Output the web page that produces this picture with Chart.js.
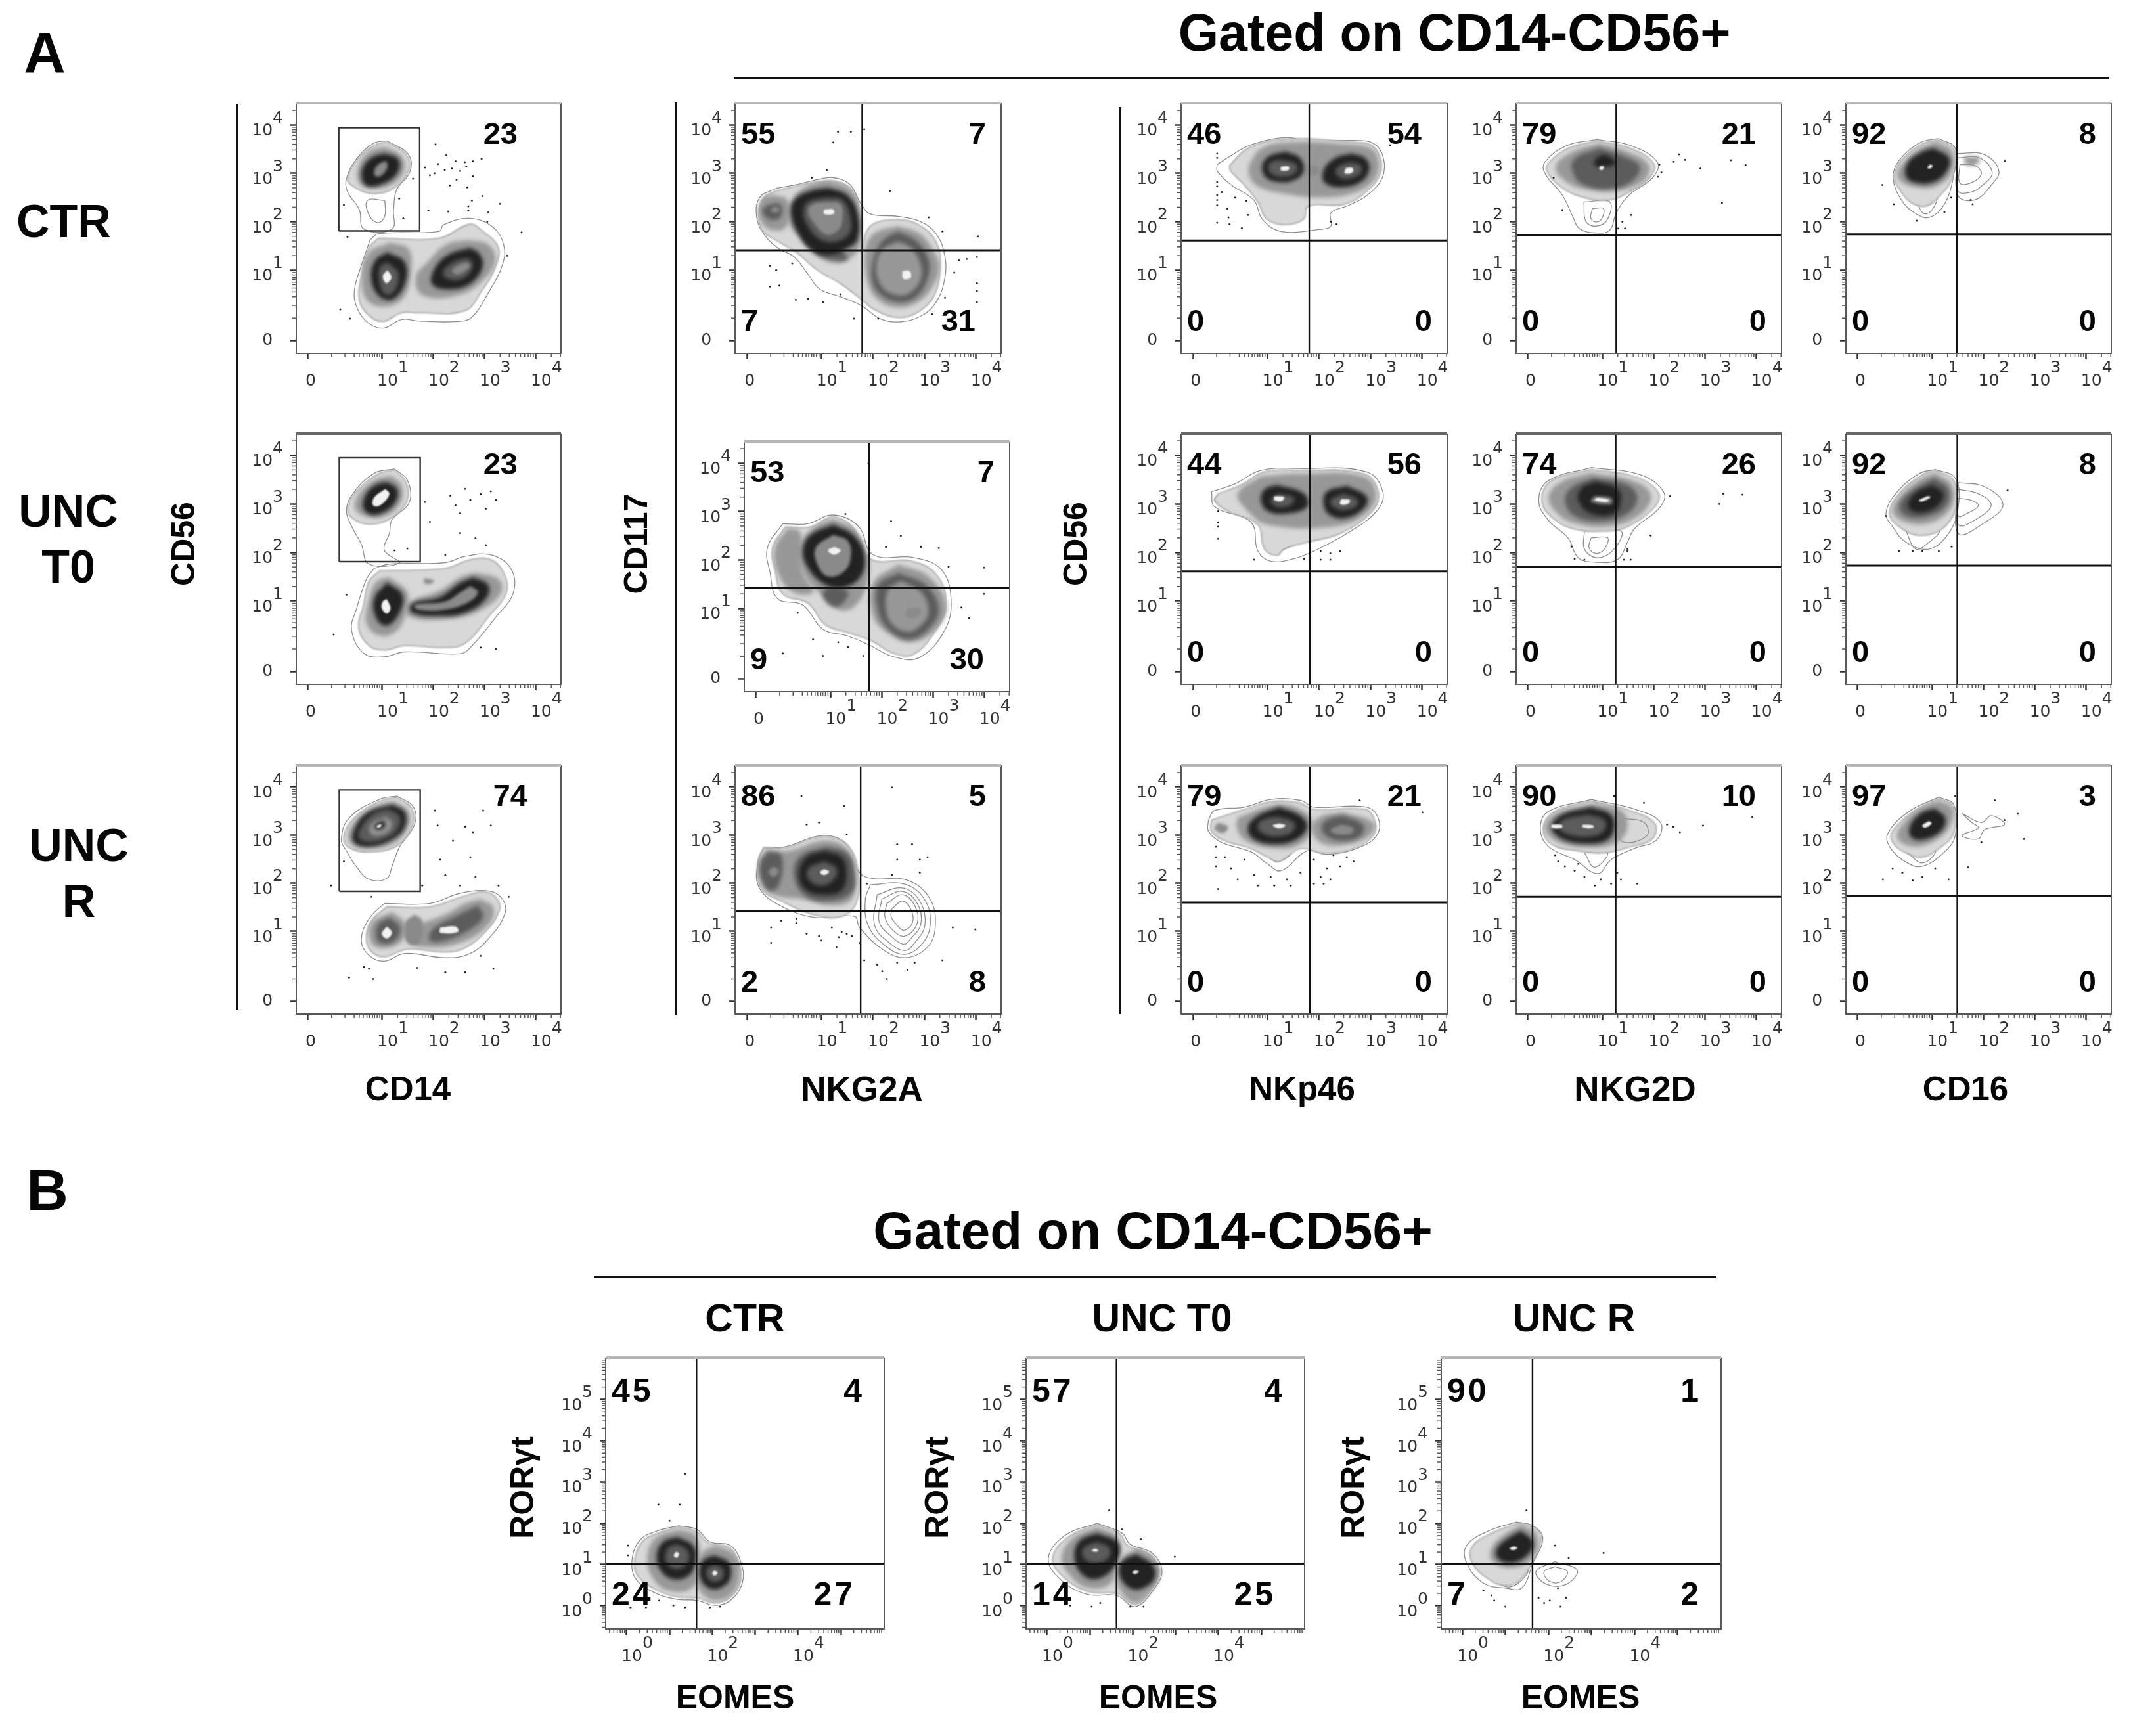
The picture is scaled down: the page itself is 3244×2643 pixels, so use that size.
<!DOCTYPE html>
<html>
<head>
<meta charset="utf-8">
<title>Flow cytometry panels</title>
<script src="https://cdn.jsdelivr.net/npm/chart.js@4/dist/chart.umd.js"></script>
<style>
  html, body { margin: 0; background: #fff; }
  #figure { position: relative; width: 3244px; height: 2643px; overflow: hidden; filter: blur(0.6px); }
  canvas { position: absolute; }
  .txt { position: absolute; font-family: "Liberation Sans", Arial, sans-serif; font-weight: bold; color: #050505; white-space: nowrap; transform: translate(-50%, -50%); }
  .rule { position: absolute; background: #111; }
</style>
</head>
<body>
<div id="figure"></div>
<script>
// ticks. the A panels are biexponential, so the position of 0, 10^1.. is in axis units
var biexMajor = [0, 1.45, 2.45, 3.45, 4.45]
var biexExponents = [null, 1, 2, 3, 4]
var biexMinorLow = [0.46, 0.72, 0.9, 1.0, 1.08, 1.15, 1.2, 1.26, 1.3, 1.35, 1.4, 4.75, 4.93]
var logMajor = [0, 1, 2, 3, 4, 5]
var logXExponents = [0, null, 2, null, 4, null]
var logYExponents = [0, 1, 2, 3, 4, 5]
var decadeMinor = [0.3, 0.48, 0.6, 0.7, 0.78, 0.85, 0.9, 0.95]

// each ring: density level, then x,y,x,y.. in axis units, outermost first
var ctrCd14Rings = [
  [1, 1.55,4.12, 1.96,3.84, 1.99,3.48, 1.73,3.11, 1.67,2.7, 1.64,2.3, 1.09,2.3, 1.0,2.7, .77,3.07, .75,3.34, .95,3.75, 1.28,4.07],
  [1, 1.5,2.89, 1.5,2.57, 1.37,2.43, 1.2,2.57, 1.16,2.89],
  [2, 1.55,4.1, 1.92,3.84, 1.97,3.52, 1.7,3.16, 1.28,3.03, .91,3.16, .77,3.34, .98,3.75, 1.28,4.02],
  [3, 1.5,4.0, 1.83,3.8, 1.87,3.48, 1.6,3.2, 1.23,3.14, 1.0,3.25, .98,3.57, 1.18,3.89],
  [5, 1.5,3.86, 1.76,3.75, 1.76,3.48, 1.5,3.25, 1.18,3.18, 1.05,3.34, 1.09,3.61, 1.28,3.8],
  [6, 1.53,3.7, 1.55,3.57, 1.41,3.39, 1.3,3.41, 1.32,3.57, 1.44,3.68],
  [1, 1.21,2.07, 1.37,2.2, 2.56,2.25, 2.65,2.39, 3.16,2.52, 3.61,2.34, 3.82,1.98, 3.8,1.57, 3.52,.98, 3.2,.48, 2.93,.39, 2.15,.4, 1.83,.43, 1.46,.25, 1.14,.39, .93,.75, .91,1.07, 1.05,1.57],
  [2, 1.37,2.11, 2.56,2.11, 3.16,2.4, 3.39,2.27, 3.71,1.93, 3.66,1.52, 3.39,1.02, 3.06,.61, 2.15,.57, 1.83,.57, 1.46,.39, 1.18,.52, 1.0,.84, 1.05,1.34, 1.18,1.89],
  [3, 1.6,2.02, 1.96,1.89, 2.01,1.39, 1.87,.89, 1.55,.7, 1.18,.8, 1.05,1.2, 1.18,1.8],
  [5, 1.55,1.82, 1.89,1.61, 1.89,1.16, 1.64,.84, 1.37,.93, 1.23,1.3, 1.32,1.66],
  [4, 1.55,1.61, 1.76,1.39, 1.69,1.02, 1.5,.95, 1.39,1.25, 1.41,1.52],
  [7, 1.55,1.45, 1.63,1.3, 1.53,1.18, 1.46,1.32],
  [3, 3.11,2.07, 3.52,1.98, 3.66,1.66, 3.43,1.25, 2.93,.93, 2.24,.93, 2.1,1.3, 2.33,1.61, 2.7,1.98],
  [5, 3.16,1.91, 3.34,1.8, 3.41,1.52, 3.16,1.16, 2.74,1.05, 2.42,1.16, 2.47,1.48, 2.74,1.77],
  [4, 3.11,1.7, 3.22,1.57, 3.06,1.3, 2.79,1.25, 2.63,1.39, 2.83,1.61],
  [6, 3.11,1.61, 3.16,1.52, 2.93,1.36, 2.81,1.43, 2.93,1.55]
]
var ctrCd14Dots = [2.49,4.05, 2.7,3.82, 2.88,3.7, 3.06,3.68, 3.22,3.7, 3.39,3.75, 2.28,3.57, 2.38,3.41, 2.47,3.45, 2.54,3.64, 2.67,3.52, 2.81,3.55, 2.97,3.5, 3.09,3.59, 3.22,3.39, 2.9,3.32, 3.11,3.16, 2.77,3.2, 3.2,2.89, 3.41,2.98, 3.75,2.82, 3.13,2.77, 3.13,2.68, 2.35,2.68, 2.74,2.66, 3.52,2.64, 3.5,2.45, 4.17,2.23, 3.89,1.75, .77,2.14, .63,.64, .82,.45, 1.78,2.93, 2.05,3.34, .7,2.8, 1.86,2.52]
var ctrCd14Pct = [null, 23, null, null]
var ctrCd14Box = [.6, 2.18, 2.26, 4.39]

var unc0Cd14Rings = [
  [1, 1.69,4.17, 1.94,3.94, 1.98,3.49, 1.64,3.12, 1.59,2.85, 1.49,2.49, 1.79,2.24, 1.19,2.21, 1.04,2.62, .85,2.99, .75,3.3, .85,3.62, 1.29,4.08],
  [2, 1.69,4.15, 1.91,3.9, 1.94,3.53, 1.64,3.17, 1.19,3.03, .85,3.17, .78,3.4, 1.0,3.76, 1.39,4.08],
  [3, 1.64,4.03, 1.84,3.8, 1.79,3.44, 1.49,3.19, 1.14,3.19, .92,3.35, 1.0,3.67, 1.34,3.96],
  [5, 1.54,3.9, 1.74,3.76, 1.71,3.49, 1.44,3.26, 1.19,3.24, 1.07,3.4, 1.14,3.67, 1.34,3.85],
  [7, 1.51,3.76, 1.59,3.65, 1.41,3.42, 1.27,3.42, 1.29,3.58],
  [1, 1.29,2.12, 1.59,2.21, 2.68,2.24, 3.07,2.37, 3.57,2.4, 3.96,2.12, 4.01,1.62, 3.67,1.12, 3.17,.49, 2.97,.36, 1.89,.4, 1.49,.3, 1.09,.37, .85,.85, .95,1.3, 1.14,1.9],
  [2, 1.39,2.07, 2.68,2.12, 3.17,2.3, 3.57,2.3, 3.82,2.03, 3.87,1.62, 3.52,1.12, 3.07,.58, 2.68,.49, 1.89,.53, 1.49,.44, 1.19,.53, .99,.89, 1.09,1.39, 1.19,1.85],
  [3, 1.59,1.94, 1.94,1.62, 1.89,1.12, 1.69,.8, 1.39,.74, 1.14,.99, 1.19,1.49, 1.34,1.85],
  [5, 1.54,1.83, 1.84,1.58, 1.79,1.21, 1.54,.94, 1.34,1.08, 1.29,1.49],
  [7, 1.54,1.49, 1.61,1.3, 1.54,1.19, 1.44,1.3, 1.46,1.44],
  [3, 3.27,2.03, 3.72,1.9, 3.77,1.62, 3.37,1.26, 2.78,1.08, 1.98,1.12, 1.94,1.39, 2.58,1.67, 2.97,1.94],
  [5, 3.22,1.94, 3.52,1.78, 3.47,1.49, 3.07,1.21, 2.58,1.14, 2.03,1.21, 2.03,1.39, 2.58,1.53, 2.93,1.8],
  [6, 3.17,1.76, 3.32,1.62, 3.07,1.39, 2.58,1.26, 2.13,1.28, 2.08,1.37, 2.68,1.44, 2.97,1.62],
  [6, 2.28,1.92, 2.46,1.87, 2.38,1.8, 2.26,1.83]
]
var unc0Cd14Dots = [2.78,3.62, 3.07,3.76, 3.37,3.65, 3.67,3.53, 2.88,3.42, 3.17,3.53, 3.47,3.35, 2.97,3.26, 3.57,3.71, 2.28,3.49, 2.38,3.08, 2.97,2.85, 3.47,2.6, 2.68,2.4, 3.27,2.74, 1.69,2.49, 1.94,2.53, 3.67,.46, 3.37,.49, .75,1.58, .5,.76]
var unc0Cd14Pct = [null, 23, null, null]
var unc0Cd14Box = [.61, 2.19, 2.26, 4.4]

var uncRCd14Rings = [
  [1, 1.74,4.26, 2.06,4.03, 2.08,3.67, 1.79,3.21, 1.64,2.8, 1.54,2.55, 1.19,2.53, .94,2.8, .75,3.12, .65,3.35, .8,3.8, 1.39,4.19],
  [2, 1.74,4.24, 2.03,3.99, 2.03,3.62, 1.74,3.23, 1.24,3.1, .8,3.19, .7,3.44, .95,3.85, 1.44,4.17],
  [3, 1.69,4.15, 1.96,3.94, 1.94,3.58, 1.64,3.26, 1.19,3.17, .85,3.26, .8,3.53, 1.09,3.9, 1.44,4.1],
  [5, 1.64,4.08, 1.89,3.92, 1.87,3.58, 1.59,3.33, 1.19,3.21, .9,3.3, .9,3.55, 1.14,3.9],
  [4, 1.57,3.99, 1.79,3.83, 1.74,3.55, 1.49,3.37, 1.19,3.3, .99,3.39, 1.04,3.62, 1.29,3.9],
  [3, 1.51,3.83, 1.64,3.71, 1.57,3.53, 1.34,3.44, 1.21,3.51, 1.24,3.69],
  [5, 1.47,3.76, 1.51,3.65, 1.37,3.56, 1.29,3.63],
  [7, 1.41,3.68, 1.44,3.65, 1.37,3.6, 1.34,3.63],
  [1, 1.49,2.03, 2.38,2.03, 2.97,2.24, 3.57,2.28, 3.82,2.08, 3.84,1.8, 3.57,1.35, 3.17,.99, 2.68,.9, 1.89,.99, 1.49,.83, 1.19,.95, 1.04,1.26, 1.19,1.71],
  [2, 1.54,1.96, 2.38,1.96, 3.02,2.17, 3.47,2.27, 3.72,2.08, 3.72,1.84, 3.47,1.45, 3.07,1.11, 2.68,1.02, 1.94,1.08, 1.49,.92, 1.24,1.03, 1.14,1.3, 1.24,1.67],
  [3, 1.64,1.85, 1.89,1.62, 1.84,1.26, 1.49,1.1, 1.24,1.21, 1.24,1.62],
  [4, 1.59,1.74, 1.79,1.55, 1.74,1.3, 1.49,1.19, 1.34,1.3, 1.37,1.6],
  [7, 1.54,1.55, 1.64,1.42, 1.54,1.3, 1.44,1.4],
  [3, 3.37,2.12, 3.62,1.94, 3.52,1.58, 2.97,1.21, 2.28,1.12, 1.98,1.26, 2.08,1.53, 2.68,1.8, 3.07,2.03],
  [4, 3.32,1.99, 3.42,1.76, 3.17,1.49, 2.68,1.26, 2.38,1.26, 2.43,1.49, 2.88,1.76],
  [6, 2.08,1.8, 2.23,1.67, 2.18,1.21, 1.94,1.21, 1.89,1.62],
  [7, 2.58,1.53, 2.88,1.55, 2.93,1.44, 2.58,1.42]
]
var uncRCd14Dots = [2.48,3.96, 3.42,3.96, 2.53,3.65, 3.07,3.62, 3.57,3.65, 3.22,3.51, 2.83,3.33, 2.58,2.94, 3.17,2.99, 2.68,2.62, 3.27,2.58, 2.97,2.4, 3.72,2.4, 2.23,2.4, 3.92,2.17, 1.24,2.17, .45,2.4, .8,.49, 1.27,.46, 1.19,.67, 2.13,.69, 2.68,.6, 3.07,.6, 3.62,.67, 3.37,.94, 1.09,.71, .7,2.9]
var uncRCd14Pct = [null, 74, null, null]
var uncRCd14Box = [.61, 2.19, 2.28, 4.39]

var ctrNkg2aRings = [
  [1, .57,3.14, .97,3.22, 1.37,3.32, 1.68,3.36, 2.0,3.22, 2.22,2.81, 2.4,2.61, 2.93,2.56, 3.38,2.45, 3.69,2.18, 3.85,1.72, 3.85,1.31, 3.69,.81, 3.38,.5, 2.93,.38, 2.58,.45, 2.22,.72, 1.82,.9, 1.41,1.06, 1.19,1.36, .92,1.72, .61,1.9, .34,2.18, .19,2.54, .25,2.95],
  [2, .57,3.09, 1.37,3.27, 1.9,3.22, 2.17,2.81, 2.22,1.9, 2.4,2.36, 2.93,2.49, 3.38,2.36, 3.69,2.0, 3.75,1.54, 3.65,.95, 3.33,.59, 2.93,.47, 2.49,.63, 2.22,.85, 1.82,1.17, 1.37,1.45, .97,1.81, .61,2.04, .3,2.27, .23,2.63, .34,2.95],
  [3, .52,3.0, .79,2.9, .81,2.45, .65,2.27, .34,2.36, .23,2.68, .32,2.95],
  [4, .43,2.81, .65,2.81, .65,2.54, .43,2.5, .3,2.68],
  [6, .48,2.75, .61,2.75, .61,2.65, .48,2.65],
  [3, 1.59,3.31, 2.0,3.13, 2.17,2.77, 2.2,2.0, 2.04,1.72, 1.77,1.59, 1.41,1.72, 1.1,2.04, .83,2.4, .83,2.81, 1.15,3.18],
  [4, 1.24,1.93, 1.77,1.9, 1.95,1.68, 1.68,1.66, 1.37,1.77],
  [5, 1.59,3.15, 1.95,3.0, 2.15,2.63, 2.15,2.09, 1.95,1.9, 1.59,1.77, 1.24,1.88, 1.01,2.18, .86,2.59, .92,2.9, 1.24,3.09],
  [4, 1.55,2.95, 1.86,2.9, 2.0,2.59, 2.0,2.22, 1.73,2.04, 1.41,2.09, 1.19,2.36, 1.1,2.63, 1.19,2.86],
  [6, 1.55,2.86, 1.82,2.81, 1.86,2.5, 1.77,2.27, 1.55,2.18, 1.28,2.45, 1.19,2.68, 1.28,2.81],
  [7, 1.5,2.7, 1.68,2.7, 1.68,2.61, 1.5,2.61],
  [3, 2.93,2.36, 3.33,2.22, 3.6,1.9, 3.74,1.5, 3.6,1.09, 3.29,.77, 2.93,.68, 2.58,.81, 2.35,1.18, 2.31,1.9, 2.49,2.22],
  [4, 2.93,2.25, 3.31,2.04, 3.54,1.63, 3.51,1.27, 3.29,.9, 2.98,.79, 2.62,.93, 2.44,1.22, 2.46,1.67, 2.62,2.04],
  [3, 2.93,2.04, 3.2,1.9, 3.38,1.54, 3.36,1.22, 3.11,.95, 2.8,.97, 2.58,1.18, 2.51,1.54, 2.62,1.86],
  [7, 3.02,1.43, 3.16,1.43, 3.18,1.29, 3.04,1.27]
]
var ctrNkg2aDots = [1.77,4.31, 2.02,4.31, 1.68,4.09, 2.28,4.36, 1.55,3.52, 1.26,3.36, 2.78,3.09, 3.53,2.54, 3.8,2.25, 4.49,2.15, 4.12,1.65, 4.27,1.68, 4.47,1.72, 4.03,1.4, 4.47,1.18, 4.47,1.02, 4.47,.79, 3.85,.88, .45,1.54, .57,1.45, .45,1.11, .63,1.13, .88,1.59, 1.19,.86, .95,.84, 1.48,.79, 1.82,.95, 2.08,.45, 2.55,.45, 3.6,.54]
var ctrNkg2aPct = [55, 7, 7, 31]
var ctrNkg2aCut = [2.24, 1.86]

var unc0Nkg2aRings = [
  [1, .52,3.2, 1.01,3.2, 1.5,3.38, 1.99,3.15, 2.28,2.56, 3.07,2.5, 3.61,2.25, 3.8,1.61, 3.66,.97, 3.17,.43, 2.68,.45, 2.19,.7, 1.79,.88, 1.3,1.02, .91,1.52, .42,1.65, .27,2.2, .22,2.7],
  [2, .57,3.13, 1.06,3.13, 1.5,3.34, 1.89,3.11, 2.23,2.47, 3.02,2.43, 3.51,2.15, 3.7,1.56, 3.51,1.02, 3.07,.5, 2.68,.52, 2.23,.79, 1.79,.95, 1.35,1.11, 1.01,1.56, .52,1.75, .37,2.25, .32,2.7],
  [3, .62,3.11, .86,3.02, .91,2.2, 1.11,1.79, .71,1.79, .42,2.2, .37,2.7],
  [3, 1.5,3.31, 1.94,3.06, 2.19,2.47, 2.14,1.88, 1.89,1.47, 1.6,1.43, 1.25,1.75, .91,2.2, .86,2.75, 1.11,3.11],
  [4, 1.4,1.88, 1.79,1.79, 1.65,1.52, 1.45,1.52, 1.3,1.75],
  [5, 1.5,3.18, 1.89,2.97, 2.11,2.56, 2.04,2.11, 1.7,1.88, 1.3,1.97, 1.01,2.29, .91,2.65, 1.06,2.97],
  [6, 1.5,2.97, 1.79,2.84, 1.84,2.47, 1.7,2.2, 1.4,2.11, 1.2,2.34, 1.16,2.7],
  [7, 1.52,2.72, 1.65,2.65, 1.52,2.56, 1.4,2.65],
  [3, 2.77,2.36, 3.36,2.11, 3.7,1.52, 3.51,1.02, 3.02,.75, 2.58,.93, 2.28,1.29, 2.28,1.97],
  [4, 2.77,2.18, 3.31,1.93, 3.56,1.43, 3.36,1.02, 2.97,.81, 2.58,1.02, 2.38,1.38, 2.38,1.93],
  [3, 2.82,2.02, 3.21,1.79, 3.36,1.38, 3.17,1.06, 2.92,.97, 2.63,1.15, 2.53,1.47, 2.58,1.84],
  [6, 2.97,1.47, 3.21,1.43, 3.12,1.25, 2.92,1.29]
]
var unc0Nkg2aDots = [2.19,4.45, 1.74,3.4, 2.63,3.25, 2.82,2.95, 2.53,2.72, 3.21,2.72, 3.56,2.7, 4.44,2.29, 4.44,1.75, 3.75,2.31, 4.0,1.47, 4.15,1.25, 1.11,.81, 1.6,.75, 1.79,.65, 1.3,.47, 2.09,.47, .52,.52, .81,1.36]
var unc0Nkg2aPct = [53, 7, 9, 30]
var unc0Nkg2aCut = [2.2, 1.88]

var uncRNkg2aRings = [
  [1, .32,3.17, .76,3.21, 1.45,3.44, 1.89,3.3, 2.19,2.67, 2.43,2.55, 3.12,2.51, 3.56,2.12, 3.66,1.53, 3.51,1.12, 3.07,.9, 2.63,1.08, 2.19,1.53, 2.09,1.76, 1.3,1.74, .57,2.03, .22,2.4, .22,2.9],
  [1, 2.4,2.42, 3.07,2.43, 3.46,2.1, 3.56,1.56, 3.38,1.16, 3.07,.97, 2.7,1.14, 2.36,1.56, 2.3,2.1],
  [1, 2.53,2.21, 3.02,2.35, 3.36,2.08, 3.46,1.58, 3.26,1.21, 3.07,1.05, 2.77,1.21, 2.48,1.58],
  [1, 2.62,2.12, 3.02,2.28, 3.31,2.03, 3.38,1.6, 3.17,1.28, 3.05,1.18, 2.8,1.35, 2.57,1.65],
  [1, 2.72,2.03, 3.02,2.21, 3.26,1.99, 3.31,1.62, 3.07,1.35, 2.82,1.49, 2.68,1.76],
  [1, 2.82,1.92, 3.02,2.08, 3.18,1.92, 3.22,1.64, 3.05,1.47, 2.9,1.6, 2.8,1.76],
  [2, .32,3.19, .76,3.19, 1.45,3.42, 1.94,3.26, 2.16,2.67, 2.12,2.03, 1.84,1.76, 1.35,1.78, .67,2.08, .27,2.35, .22,2.9],
  [3, .37,3.15, .81,3.12, 1.5,3.33, 1.94,3.17, 2.09,2.71, 2.04,2.12, 1.65,1.99, 1.06,2.12, .52,2.21, .27,2.49, .25,2.9],
  [4, .42,3.1, .67,3.03, .62,2.4, .42,2.3, .27,2.58, .27,2.9],
  [6, .52,2.8, .62,2.71, .52,2.58, .42,2.69],
  [4, 1.55,3.21, 1.94,3.08, 2.09,2.71, 2.04,2.26, 1.6,2.08, 1.11,2.21, .91,2.67, 1.06,3.03],
  [5, 1.5,3.12, 1.84,2.99, 1.94,2.67, 1.84,2.3, 1.5,2.21, 1.16,2.3, 1.01,2.62, 1.16,2.99],
  [4, 1.5,2.9, 1.74,2.76, 1.69,2.53, 1.45,2.4, 1.2,2.53, 1.2,2.76],
  [7, 1.5,2.74, 1.6,2.69, 1.5,2.62, 1.42,2.68]
]
var uncRNkg2aDots = [1.06,4.26, 1.89,4.05, 2.82,4.44, 1.16,3.67, 1.4,3.71, 1.94,3.46, 2.92,3.26, 3.21,3.26, 2.92,2.94, 3.36,2.94, 3.51,2.99, 2.82,2.62, 3.36,2.67, 2.33,2.44, 4.0,1.53, 4.44,1.49, 3.8,.85, .47,1.53, .67,1.67, .96,1.62, 1.16,1.4, 1.45,1.26, 1.65,1.53, 1.94,1.4, 2.19,1.21, 1.74,1.12, 2.28,.85, 2.53,.76, 2.72,.46, 3.12,.65, 2.92,.8, 3.26,.8, .47,1.21, 1.4,1.35, 1.84,1.44, 2.04,1.35, .96,1.71, 1.79,1.33, 2.63,.62]
var uncRNkg2aPct = [86, 5, 2, 8]
var uncRNkg2aCut = [2.21, 1.87]

var ctrNkp46Rings = [
  [1, .47,3.63, .73,3.81, 1.13,4.04, 1.8,4.19, 2.24,4.11, 3.12,4.13, 3.52,4.06, 3.7,3.77, 3.68,3.36, 3.39,3.0, 3.03,2.79, 2.68,2.63, 2.68,2.36, 2.46,2.29, 1.71,2.25, 1.35,2.5, 1.18,2.9, .73,3.22, .47,3.5],
  [1, 1.49,2.99, 2.15,3.04, 2.1,2.72, 1.75,2.45, 1.49,2.63],
  [1, 1.62,2.9, 2.02,2.95, 1.97,2.72, 1.75,2.59, 1.6,2.72],
  [2, .71,3.61, 1.09,3.98, 1.8,4.16, 3.12,4.09, 3.48,4.02, 3.65,3.72, 3.61,3.38, 3.34,3.05, 2.94,2.81, 2.24,2.77, 2.15,2.5, 1.8,2.39, 1.44,2.5, 1.26,2.86, .99,3.22, .73,3.5],
  [3, 1.09,3.63, 1.31,3.95, 1.8,4.09, 3.12,4.04, 3.48,3.95, 3.61,3.68, 3.52,3.31, 3.12,3.04, 2.46,2.95, 1.71,3.04, 1.26,3.18, 1.09,3.41],
  [5, 1.8,3.9, 2.08,3.77, 2.15,3.49, 1.97,3.31, 1.66,3.27, 1.4,3.38, 1.35,3.63, 1.49,3.81],
  [4, 1.75,3.72, 1.99,3.65, 2.02,3.49, 1.8,3.38, 1.53,3.43, 1.46,3.59, 1.55,3.7],
  [7, 1.71,3.59, 1.86,3.59, 1.86,3.52, 1.71,3.51],
  [5, 3.08,3.86, 3.34,3.77, 3.43,3.54, 3.26,3.27, 2.86,3.16, 2.55,3.27, 2.55,3.54, 2.77,3.77],
  [4, 3.08,3.68, 3.26,3.61, 3.26,3.45, 3.03,3.34, 2.86,3.36, 2.77,3.5, 2.9,3.63],
  [7, 2.97,3.56, 3.1,3.56, 3.1,3.47, 2.95,3.45],
  [6, 2.24,3.59, 2.41,3.59, 2.44,3.45, 2.24,3.43]
]
var ctrNkp46Dots = [.47,3.86, .47,3.77, .47,3.27, .47,3.18, .47,3.0, .47,2.9, .47,2.79, .47,2.43, .56,3.06, .82,2.95, 1.04,2.88, .67,2.72, .69,2.54, .71,2.4, .95,2.32, 1.07,2.59, 3.83,4.03, 2.68,2.45, 2.79,2.4]
var ctrNkp46Pct = [46, 54, 0, 0]
var ctrNkp46Cut = [2.26, 2.06]

var unc0Nkp46Rings = [
  [1, .36,3.7, .81,3.86, 1.32,4.14, 2.09,4.18, 3.37,4.11, 3.69,3.7, 3.57,3.3, 2.99,2.84, 2.35,2.48, 1.96,2.32, 1.51,2.27, 1.26,2.48, 1.13,3.07, .42,3.39],
  [1, 1.39,2.84, 2.09,2.88, 2.03,2.66, 1.77,2.52, 1.64,2.43, 1.45,2.61],
  [1, 1.51,2.75, 1.83,2.75, 1.71,2.52, 1.55,2.61],
  [1, .49,3.64, .62,3.57, .55,3.45, .42,3.52],
  [2, .49,3.66, .94,3.84, 1.39,4.11, 2.09,4.14, 3.31,4.07, 3.6,3.7, 3.48,3.3, 2.86,2.84, 2.22,2.66, 1.77,2.52, 1.64,2.39, 1.39,2.52, 1.26,3.02, .68,3.3, .42,3.52],
  [3, 1.32,4.02, 2.09,4.07, 3.31,4.02, 3.56,3.66, 3.37,3.25, 2.73,2.98, 1.45,3.02, 1.07,3.3, .87,3.66],
  [5, 1.64,3.84, 2.16,3.66, 2.22,3.39, 1.83,3.25, 1.45,3.3, 1.32,3.52, 1.39,3.75],
  [4, 1.67,3.66, 1.96,3.57, 1.9,3.43, 1.64,3.39, 1.51,3.52],
  [7, 1.58,3.61, 1.77,3.59, 1.73,3.51, 1.58,3.53],
  [5, 2.99,3.82, 3.37,3.61, 3.35,3.39, 2.99,3.16, 2.67,3.21, 2.54,3.43, 2.6,3.7],
  [4, 2.92,3.66, 3.18,3.55, 3.18,3.41, 2.92,3.32, 2.73,3.39, 2.67,3.52],
  [7, 2.88,3.55, 3.05,3.53, 3.01,3.45, 2.86,3.45]
]
var unc0Nkp46Dots = [.49,3.3, .49,3.07, .49,2.73, .49,2.98, 1.19,2.3, 2.16,2.32, 2.67,2.43, 2.86,2.48, 2.48,2.48, 2.67,2.3, 2.48,2.3]
var unc0Nkp46Pct = [44, 56, 0, 0]
var unc0Nkp46Cut = [2.27, 2.06]

var uncRNkp46Rings = [
  [1, .3,3.76, .42,3.96, 1.0,4.03, 1.51,4.19, 2.09,4.17, 2.35,4.03, 3.37,4.03, 3.6,3.8, 3.57,3.44, 3.18,3.17, 2.6,3.05, 2.22,3.12, 1.71,2.71, 1.45,2.85, 1.13,3.1, .55,3.3, .3,3.53],
  [1, 1.39,3.08, 1.9,3.08, 1.64,2.9],
  [2, .36,3.76, 1.0,3.98, 1.51,4.14, 2.06,4.12, 2.35,3.98, 3.35,3.98, 3.53,3.75, 3.5,3.44, 3.12,3.17, 2.54,3.07, 2.09,3.17, 1.68,2.9, 1.45,2.99, 1.13,3.17, .62,3.33, .36,3.53],
  [3, .87,3.81, 1.64,4.08, 2.16,3.94, 2.33,3.62, 2.09,3.26, 1.6,3.17, 1.0,3.35, .85,3.62],
  [5, 1.68,4.03, 2.09,3.85, 2.22,3.62, 2.03,3.37, 1.6,3.26, 1.17,3.37, 1.07,3.62, 1.26,3.85],
  [4, 1.64,3.83, 1.96,3.71, 1.94,3.53, 1.64,3.42, 1.32,3.51, 1.26,3.67, 1.39,3.78],
  [7, 1.68,3.69, 1.8,3.65, 1.68,3.59, 1.55,3.65],
  [3, 2.92,3.92, 3.5,3.71, 3.44,3.44, 2.92,3.24, 2.47,3.3, 2.32,3.6, 2.47,3.83],
  [4, 2.92,3.85, 3.3,3.67, 3.27,3.44, 2.92,3.33, 2.6,3.42, 2.5,3.62, 2.63,3.78],
  [6, 2.88,3.67, 3.1,3.6, 3.09,3.49, 2.84,3.46, 2.67,3.55],
  [6, .49,3.71, .68,3.62, .59,3.49, .42,3.58]
]
var uncRNkp46Dots = [.45,3.21, .45,2.99, .45,2.8, .62,2.99, .74,2.76, .87,2.53, 1.19,2.62, 1.26,2.4, 1.58,2.4, 1.9,2.4, 1.51,2.58, 2.09,2.67, 1.0,2.94, 1.83,2.53, .49,2.33, 2.48,2.58, 2.67,2.53, 2.86,2.8, 3.12,2.9, 2.99,2.99, 2.6,2.76, 2.35,2.44, 2.54,2.44, 4.46,3.92, 3.24,4.17, 2.35,2.94, 2.73,3.03]
var uncRNkp46Pct = [79, 21, 0, 0]
var uncRNkp46Cut = [2.27, 2.05]

var ctrNkg2dRings = [
  [1, 1.34,4.15, 2.01,4.02, 2.52,3.68, 2.43,3.36, 1.97,3.0, 1.72,2.63, 1.59,2.27, 1.3,2.22, 1.0,2.31, .88,2.54, .67,3.0, .33,3.45, .33,3.68, .75,4.02],
  [1, 1.09,2.86, 1.59,2.86, 1.55,2.5, 1.34,2.36, 1.13,2.45],
  [1, 1.26,2.72, 1.47,2.72, 1.43,2.5, 1.3,2.45, 1.22,2.54],
  [2, 1.34,4.12, 1.99,3.97, 2.45,3.65, 2.37,3.36, 1.93,3.04, 1.59,2.9, 1.09,2.95, .63,3.18, .37,3.5, .42,3.68, .79,3.97],
  [3, 1.38,4.07, 1.93,3.9, 2.35,3.63, 2.27,3.31, 1.76,3.09, 1.17,3.11, .75,3.27, .54,3.59, .88,3.9],
  [4, 1.38,3.97, 1.84,3.81, 2.18,3.59, 2.01,3.27, 1.59,3.13, 1.17,3.18, .92,3.36, .88,3.72],
  [5, 1.51,3.84, 1.72,3.68, 1.55,3.59, 1.3,3.61, 1.34,3.77],
  [7, 1.41,3.6, 1.48,3.59, 1.45,3.52, 1.39,3.54]
]
var ctrNkg2dDots = [2.94,3.84, 3.06,3.73, 2.84,3.69, 3.36,3.55, 3.95,3.72, 4.24,3.62, 3.78,2.84, 2.56,3.63, 2.6,3.47, 2.53,3.38, .67,2.69, 2.01,2.59, 1.89,2.31, 1.76,2.31, 1.84,2.45, .5,3.36]
var ctrNkg2dPct = [79, 21, 0, 0]
var ctrNkg2dCut = [1.72, 2.17]

var unc0Nkg2dRings = [
  [1, 1.23,4.2, 2.19,4.05, 2.64,3.7, 2.58,3.39, 2.07,2.93, 1.94,2.66, 1.74,2.3, 1.3,2.25, .98,2.34, .78,2.75, .4,3.11, .21,3.52, .4,3.93],
  [1, 1.1,2.89, 1.81,2.89, 1.68,2.52, 1.36,2.34, 1.1,2.52],
  [1, 1.23,2.75, 1.55,2.75, 1.49,2.52, 1.32,2.43, 1.19,2.55],
  [2, 1.23,4.16, 2.12,4.0, 2.54,3.68, 2.47,3.39, 1.94,2.98, 1.55,2.89, .91,2.93, .46,3.18, .27,3.52, .46,3.93],
  [3, 1.23,4.09, 2.03,3.93, 2.39,3.66, 2.26,3.3, 1.68,3.0, .91,3.05, .53,3.3, .4,3.61, .66,3.91],
  [4, 1.27,3.98, 1.94,3.84, 2.13,3.57, 1.94,3.25, 1.42,3.09, .91,3.2, .72,3.52, .85,3.79],
  [5, 1.32,3.91, 1.74,3.77, 1.81,3.52, 1.68,3.25, 1.23,3.25, .98,3.52, 1.04,3.77],
  [6, 1.3,3.61, 1.62,3.57, 1.62,3.45, 1.23,3.5],
  [7, 1.36,3.58, 1.58,3.53, 1.53,3.49, 1.3,3.53]
]
var unc0Nkg2dDots = [3.8,3.66, 4.18,3.64, 3.73,3.45, 2.77,3.61, 2.39,2.8, 1.94,2.52, 1.87,2.3, 1.94,2.48, .85,2.57, .91,2.32, 1.1,2.3, 2.0,2.3]
var unc0Nkg2dPct = [74, 26, 0, 0]
var unc0Nkg2dCut = [1.71, 2.15]

var uncRNkg2dRings = [
  [1, 1.23,4.19, 2.07,3.99, 2.58,3.71, 2.51,3.35, 2.07,3.17, 1.62,2.94, 1.36,2.65, .91,2.94, .4,3.21, .24,3.58, .4,3.94],
  [1, 1.1,3.08, 1.55,3.08, 1.3,2.78],
  [2, 1.23,4.16, 2.0,3.95, 2.47,3.69, 2.42,3.37, 1.94,3.19, 1.49,3.08, .98,3.12, .46,3.26, .3,3.6, .53,3.94],
  [1, 1.81,3.8, 2.26,3.71, 2.32,3.44, 1.87,3.3, 1.74,3.58],
  [3, 1.27,4.1, 1.81,3.96, 1.94,3.62, 1.74,3.3, 1.23,3.19, .59,3.3, .33,3.58, .53,3.89],
  [5, 1.23,4.03, 1.62,3.87, 1.68,3.58, 1.55,3.35, 1.17,3.27, .66,3.37, .46,3.62, .66,3.87],
  [4, 1.17,3.87, 1.49,3.76, 1.49,3.55, 1.23,3.42, .78,3.46, .59,3.62, .72,3.78],
  [7, 1.07,3.67, 1.27,3.65, 1.27,3.6, 1.06,3.61],
  [7, .46,3.67, .66,3.66, .66,3.6, .46,3.6]
]
var uncRNkg2dDots = [.53,3.03, .72,2.8, .91,2.71, 1.1,2.58, 1.3,2.4, 1.42,2.53, 1.62,2.44, 1.81,2.53, 2.13,2.44, 1.68,4.26, 2.26,4.12, 2.71,3.67, 2.96,3.51, 3.41,3.65, 4.37,3.83, 3.86,4.08, 2.83,3.62, .59,2.9, .98,2.85, 1.74,2.67]
var uncRNkg2dPct = [90, 10, 0, 0]
var uncRNkg2dCut = [1.71, 2.17]

var ctrCd16Rings = [
  [1, 1.95,3.86, 2.46,3.84, 2.75,3.5, 2.58,3.18, 2.28,2.9, 1.95,3.0],
  [1, 1.95,3.77, 2.37,3.77, 2.62,3.47, 2.45,3.22, 2.2,3.06, 1.95,3.09],
  [1, 1.99,3.63, 2.28,3.61, 2.41,3.45, 2.24,3.27, 1.99,3.25],
  [3, 2.07,3.79, 2.37,3.77, 2.32,3.63, 2.11,3.63],
  [1, 1.57,4.17, 1.9,3.97, 1.86,3.36, 1.69,2.81, 1.4,2.54, 1.11,2.63, .85,2.9, .69,3.36, .81,3.72, 1.23,4.09],
  [1, 1.11,3.0, 1.53,3.0, 1.44,2.68, 1.27,2.63],
  [2, 1.57,4.14, 1.88,3.95, 1.84,3.36, 1.61,3.0, 1.32,2.77, 1.02,2.86, .81,3.13, .71,3.36, .85,3.72, 1.27,4.06],
  [3, 1.53,4.11, 1.84,3.9, 1.82,3.45, 1.53,3.18, 1.19,3.15, .85,3.27, .77,3.45, .98,3.77, 1.32,4.02],
  [5, 1.48,3.97, 1.78,3.77, 1.74,3.5, 1.48,3.27, 1.15,3.25, .94,3.38, .98,3.68, 1.23,3.88],
  [7, 1.4,3.63, 1.46,3.61, 1.42,3.55, 1.36,3.56]
]
var ctrCd16Dots = [.48,3.21, .7,2.81, 2.2,2.9, 2.24,2.81, 1.69,2.65, 2.87,3.7, 1.82,2.95, 1.15,2.47]
var ctrCd16Pct = [92, 8, 0, 0]
var ctrCd16Cut = [1.93, 2.19]

var unc0Cd16Rings = [
  [1, 1.96,3.89, 2.48,3.8, 2.83,3.43, 2.48,3.07, 1.96,2.84],
  [1, 1.96,3.75, 2.35,3.66, 2.6,3.43, 2.35,3.16, 1.96,3.02],
  [1, 1.96,3.57, 2.22,3.52, 2.35,3.41, 2.16,3.27, 1.96,3.2],
  [1, 1.51,4.16, 1.9,3.98, 1.96,3.39, 1.77,2.84, 1.39,2.52, .94,2.66, .68,2.98, .55,3.25, .74,3.66, 1.19,4.07],
  [1, .94,2.89, 1.58,2.89, 1.39,2.66, 1.13,2.52],
  [2, 1.51,4.14, 1.87,3.93, 1.92,3.39, 1.64,2.93, 1.19,2.8, .81,2.98, .62,3.25, .81,3.66, 1.26,4.05],
  [3, 1.51,4.09, 1.83,3.84, 1.83,3.39, 1.45,3.07, .94,3.07, .68,3.3, .87,3.66, 1.26,3.98],
  [4, 1.49,3.98, 1.77,3.75, 1.71,3.39, 1.32,3.18, .94,3.2, .81,3.39, .98,3.66],
  [5, 1.45,3.84, 1.67,3.66, 1.54,3.39, 1.19,3.27, .98,3.39, 1.1,3.66],
  [7, 1.36,3.61, 1.42,3.59, 1.26,3.5, 1.19,3.52]
]
var unc0Cd16Dots = [.55,3.2, .81,2.48, 1.07,2.48, 1.26,2.48, 1.58,2.48, 1.83,2.57, 2.92,3.73]
var unc0Cd16Pct = [92, 8, 0, 0]
var unc0Cd16Cut = [1.94, 2.18]

var uncRCd16Rings = [
  [1, 2.03,3.9, 2.41,3.71, 2.6,3.85, 2.86,3.67, 2.47,3.56, 2.35,3.37, 2.03,3.44, 2.35,3.6, 2.22,3.71],
  [1, 1.58,4.24, 1.87,4.08, 1.9,3.44, 1.71,3.12, 1.26,2.8, .94,2.89, .62,3.21, .59,3.49, 1.0,3.94],
  [1, .94,3.12, 1.51,3.12, 1.26,2.87],
  [2, 1.58,4.21, 1.85,4.05, 1.87,3.49, 1.58,3.17, 1.26,2.99, .94,3.08, .68,3.3, .68,3.53, 1.07,3.92],
  [3, 1.58,4.17, 1.85,4.0, 1.77,3.58, 1.45,3.3, 1.07,3.21, .77,3.4, .94,3.76, 1.26,4.03],
  [5, 1.51,4.0, 1.71,3.8, 1.62,3.53, 1.26,3.35, 1.03,3.42, 1.03,3.67, 1.26,3.92],
  [7, 1.39,3.74, 1.44,3.69, 1.31,3.6, 1.26,3.65]
]
var uncRCd16Dots = [.49,2.53, .68,2.76, .87,2.67, 1.07,2.51, 1.26,2.58, 1.77,2.53, 1.51,2.76, 1.9,4.26, 2.67,4.17, 3.24,3.37, 2.15,2.78, 2.41,3.3, 3.12,3.89, 2.86,3.76]
var uncRCd16Pct = [97, 3, 0, 0]
var uncRCd16Cut = [1.94, 2.18]

var ctrRorRings = [
  [1, 1.21,1.94, 1.64,1.85, 1.94,1.55, 2.42,1.46, 2.67,1.04, 2.7,.55, 2.42,.13, 2.06,.01, 1.64,.13, 1.15,.16, .67,.31, .24,.61, .12,1.04, .3,1.58, .73,1.82],
  [2, 1.21,1.91, 1.61,1.81, 1.91,1.52, 2.39,1.41, 2.62,1.01, 2.64,.55, 2.39,.19, 2.06,.07, 1.64,.19, 1.15,.22, .73,.37, .3,.67, .18,1.04, .36,1.55, .76,1.77],
  [3, 1.21,1.85, 1.61,1.7, 1.7,1.04, 1.52,.43, .97,.37, .61,.67, .48,1.16, .67,1.64],
  [5, 1.18,1.67, 1.55,1.46, 1.61,1.04, 1.45,.73, 1.09,.64, .79,.86, .7,1.22, .85,1.55],
  [4, 1.18,1.49, 1.42,1.34, 1.42,1.04, 1.15,.89, .94,1.04, .91,1.28, 1.0,1.43],
  [7, 1.15,1.31, 1.22,1.27, 1.18,1.17, 1.1,1.21],
  [3, 2.06,1.46, 2.48,1.28, 2.64,.86, 2.48,.31, 2.06,.13, 1.7,.37, 1.61,.86, 1.76,1.28],
  [5, 2.06,1.22, 2.39,1.04, 2.42,.67, 2.24,.46, 2.0,.4, 1.76,.58, 1.7,.92, 1.82,1.13],
  [4, 2.06,1.01, 2.24,.89, 2.24,.67, 2.03,.58, 1.88,.7, 1.88,.89],
  [7, 2.04,.86, 2.12,.81, 2.06,.73, 2.0,.78]
]
var ctrRorDots = [1.36,3.2, .74,2.45, 1.24,2.45, 1.0,2.06, .03,1.46, .03,1.22, .09,-.04, .45,-.04, 1.09,.01, 1.36,-.04, 1.94,-.04, 2.18,-.02, .76,.13]
var ctrRorPct = [45, 4, 24, 27]
var ctrRorCut = [1.63, 1.02]

var unc0RorRings = [
  [1, 1.17,2.0, 1.75,1.76, 1.94,1.49, 2.45,1.28, 2.68,.86, 2.51,.43, 2.06,-.02, 1.62,.25, .92,.28, .28,.67, .03,1.16, .41,1.7],
  [2, 1.17,1.97, 1.71,1.73, 1.87,1.46, 2.39,1.25, 2.6,.86, 2.45,.43, 2.06,.04, 1.62,.3, .98,.34, .38,.7, .13,1.16, .5,1.67],
  [3, 1.17,1.91, 1.66,1.64, 1.62,1.04, 1.49,.55, .98,.43, .54,.73, .34,1.16, .6,1.64],
  [5, 1.17,1.76, 1.66,1.52, 1.62,1.04, 1.24,.67, .85,.73, .64,1.16, .76,1.58],
  [4, 1.17,1.55, 1.45,1.4, 1.43,1.16, 1.11,1.04, .85,1.16, .85,1.4],
  [7, 1.11,1.39, 1.2,1.35, 1.13,1.31, 1.04,1.34],
  [3, 2.13,1.4, 2.55,1.1, 2.64,.73, 2.38,.31, 2.06,.07, 1.75,.31, 1.62,.73, 1.75,1.16],
  [5, 2.09,1.25, 2.47,.98, 2.51,.67, 2.25,.43, 2.0,.4, 1.75,.61, 1.68,.92, 1.81,1.13],
  [7, 2.06,.86, 2.14,.83, 2.06,.77, 1.99,.81]
]
var unc0RorDots = [1.45,2.31, 1.75,1.85, 2.19,1.61, 2.98,1.19, .54,.01, 1.04,-.02, 1.24,.07, 1.94,-.02, 2.25,-.02]
var unc0RorPct = [57, 4, 14, 25]
var unc0RorCut = [1.62, 1.02]

var uncRRorRings = [
  [1, 2.15,1.07, 2.67,.86, 2.41,.52, 1.96,.52, 1.71,.83],
  [1, 2.15,.95, 2.44,.83, 2.28,.58, 2.0,.61, 1.9,.83],
  [1, 1.26,2.03, 1.64,1.94, 1.87,1.64, 1.64,1.04, 1.38,.43, 1.0,.43, .49,.55, .1,1.04, .1,1.46, .62,1.82],
  [1, .62,.92, 1.51,.89, 1.26,.52, .94,.49],
  [2, 1.32,2.01, 1.77,1.82, 1.83,1.58, 1.62,1.04, 1.32,.61, 1.0,.49, .62,.64, .23,1.04, .23,1.43, .68,1.76],
  [3, 1.38,1.97, 1.74,1.7, 1.64,1.16, 1.13,.92, .68,1.1, .68,1.4, .94,1.7],
  [5, 1.36,1.82, 1.64,1.55, 1.51,1.22, 1.13,1.04, .81,1.16, .81,1.4, 1.06,1.64],
  [7, 1.19,1.44, 1.28,1.41, 1.19,1.35, 1.1,1.39]
]
var uncRRorDots = [1.49,2.31, 3.28,1.28, .68,.25, .74,.13, 1.0,-.02, 1.77,.19, 2.03,.13, 2.28,-.02, 2.15,1.46, 2.47,1.16, 1.9,.07, 2.41,.19, 2.22,.43, .49,.37]
var uncRRorPct = [90, 1, 7, 2]
var uncRRorCut = [1.63, 1.02]

// text of the figure
var panelLetters = ['A', 'B']
var headings = ['Gated on CD14-CD56+', 'Gated on CD14-CD56+']
var rowNames = ['CTR', 'UNC', 'T0', 'UNC', 'R']
var markersA = ['CD14', 'NKG2A', 'NKp46', 'NKG2D', 'CD16']
var yMarkersA = ['CD56', 'CD117', 'CD56']
var columnsB = ['CTR', 'UNC T0', 'UNC R']

// --- layout, frames are left, top, right, bottom of the plot area in page pixels ---
var colsA = [[451, 854], [1119, 1524], [1798, 2203], [2308, 2712], [2810, 3214]]
var rowsA = [[157, 538], [660, 1042], [1165, 1544]]
var figure = document.getElementById('figure')
var marginL = 90, marginB = 70, marginT = 8, marginR = 16

// shade of a contour ring for each density level (index = level)
var levelFill = [null, null, '#d8d8d8', '#989898', '#5c5c5c', '#222222', '#8a8a8a', '#f2f2f2']
var levelBlur = [0, 0, 1, 3, 3, 3, 2, 1]

function toPoints(flat, from) {
    var pontos = []
    for (var i = from; i < flat.length; i += 2) {
        pontos.push({ x: flat[i], y: flat[i + 1] })
    }
    return pontos
}

function ringDataset(ring) {
    var level = ring[0]
    var pontos = toPoints(ring, 1)
    pontos.push(pontos[0])
    return {
        data: pontos,
        showLine: true,
        pointRadius: 0,
        tension: 0.4,
        fill: level > 1 ? 'shape' : false,
        backgroundColor: levelFill[level],
        borderColor: level <= 2 ? '#8f8f8f' : 'transparent',
        borderWidth: level <= 2 ? 1.3 : 0,
        blurPx: levelBlur[level]
    }
}

function lineDataset(pontos, width, cor) {
    return { data: pontos, showLine: true, pointRadius: 0, tension: 0, fill: false, borderColor: cor, borderWidth: width, blurPx: 0 }
}

// contour fills are blurred so they read like a density map, the rest stays sharp
var blurPlugin = {
    id: 'blurRings',
    beforeDatasetsDraw: function (chart) {
        var n = chart.data.datasets.length
        chart.ctx.filter = chart.data.datasets[n - 1].blurPx ? 'blur(' + chart.data.datasets[n - 1].blurPx + 'px)' : 'none'
    },
    afterDatasetDraw: function (chart, args) {
        var next = chart.data.datasets[args.index - 1]
        chart.ctx.filter = next && next.blurPx ? 'blur(' + next.blurPx + 'px)' : 'none'
    },
    afterDatasetsDraw: function (chart) {
        chart.ctx.filter = 'none'
    }
}

var framePlugin = {
    id: 'panelFrame',
    afterDraw: function (chart, args, opts) {
        var c = chart.ctx, a = chart.chartArea, sx = chart.scales.x, sy = chart.scales.y
        c.save()
        // short minor ticks
        c.strokeStyle = '#555'
        c.lineWidth = 1.5
        opts.minor.forEach(function (v) {
            var px = sx.getPixelForValue(v)
            if (px >= a.left && px <= a.right) { c.beginPath(); c.moveTo(px, a.bottom); c.lineTo(px, a.bottom + 6); c.stroke() }
            var py = sy.getPixelForValue(v)
            if (py >= a.top && py <= a.bottom) { c.beginPath(); c.moveTo(a.left, py); c.lineTo(a.left - 6, py); c.stroke() }
        })
        c.strokeStyle = '#5a5a5a'
        c.lineWidth = 2
        c.beginPath()
        c.moveTo(a.left, a.top); c.lineTo(a.left, a.bottom); c.lineTo(a.right, a.bottom); c.lineTo(a.right, a.top)
        c.stroke()
        c.strokeStyle = opts.topColor
        c.lineWidth = 4
        c.beginPath(); c.moveTo(a.left, a.top); c.lineTo(a.right, a.top); c.stroke()
        c.restore()
    }
}

var pctPlugin = {
    id: 'quadrantPct',
    afterDatasetsDraw: function (chart, args, opts) {
        var c = chart.ctx, a = chart.chartArea
        c.save()
        c.fillStyle = '#050505'
        c.font = 'bold ' + opts.size + 'px "Liberation Sans"'
        c.letterSpacing = opts.spacing + 'px'
        c.textBaseline = 'alphabetic'
        opts.values.forEach(function (v, i) {
            if (v === null) return
            var txt = String(v)
            var right = i % 2 == 1
            c.textAlign = right ? 'right' : 'left'
            var inset = txt.length > 1 ? opts.insetTwo : opts.insetOne
            var x = right ? a.right - inset : a.left + 9
            var y = i < 2 ? a.top + opts.topBase : a.bottom - opts.bottomBase
            c.fillText(txt, x, y)
        })
        c.restore()
    }
}

function tickLinesX(exp) {
    if (exp === null) return ''
    if (exp === undefined) return [' ', '0   ']
    return ['    ' + exp, '10  ']
}

function tickLinesY(exp) {
    if (exp === null) return '0  '
    return ['    ' + exp, '10  ']
}

function axisOptions(range, major, labeler, isX) {
    return {
        type: 'linear',
        min: range[0],
        max: range[1],
        border: { display: false },
        grid: { drawOnChartArea: false, drawTicks: true, tickLength: 9, tickWidth: 2.5, tickColor: '#333' },
        afterBuildTicks: function (s) { s.ticks = major.map(function (v) { return { value: v } }) },
        afterFit: function (s) {
            if (isX) { s.height = marginB; s.paddingLeft = 0; s.paddingRight = 0 }
            else { s.width = marginL; s.paddingTop = 0; s.paddingBottom = 0 }
        },
        ticks: {
            autoSkip: false,
            maxRotation: 0,
            minRotation: 0,
            padding: isX ? 4 : 11,
            labelOffset: isX ? 16 : 0,
            crossAlign: 'near',
            color: '#333333',
            font: { family: 'DejaVu Sans', size: 25, lineHeight: 0.78 },
            callback: function (v, i) { return labeler(i) }
        }
    }
}

function drawPanel(p) {
    var f = p.frame
    var cv = document.createElement('canvas')
    var w = f[2] - f[0] + marginL + marginR
    var h = f[3] - f[1] + marginT + marginB
    cv.width = w
    cv.height = h
    cv.style.left = (f[0] - marginL) + 'px'
    cv.style.top = (f[1] - marginT) + 'px'
    cv.style.width = w + 'px'
    cv.style.height = h + 'px'
    figure.appendChild(cv)

    var xr = p.kind == 'log' ? [-0.49, 6.01] : [-0.23, 4.94]
    var yr = p.kind == 'log' ? [-0.56, 6.01] : [-0.27, 4.9]

    // index 0 is drawn last, so cut lines and dots go first and the outer rings at the end
    var sets = []
    if (p.cut) {
        sets.push(lineDataset([{ x: p.cut[0], y: yr[0] }, { x: p.cut[0], y: yr[1] }], 2.4, '#111'))
        sets.push(lineDataset([{ x: xr[0], y: p.cut[1] }, { x: xr[1], y: p.cut[1] }], 3, '#111'))
    }
    if (p.box) {
        var b = p.box
        sets.push(lineDataset([{ x: b[0], y: b[2] }, { x: b[1], y: b[2] }, { x: b[1], y: b[3] }, { x: b[0], y: b[3] }, { x: b[0], y: b[2] }], 2.4, '#333'))
    }
    sets.push({ data: toPoints(p.dots, 0), showLine: false, pointRadius: 1.5, pointBorderWidth: 0, pointBackgroundColor: '#2a2a2a', blurPx: 0 })
    p.rings.slice().reverse().forEach(function (r) { sets.push(ringDataset(r)) })

    var minor = []
    if (p.kind == 'log') {
        for (var d = -1; d < 6; d++) decadeMinor.forEach(function (m) { minor.push(d + m) })
    } else {
        minor = biexMinorLow.slice()
        for (var k = 0; k < 3; k++) decadeMinor.forEach(function (m) { minor.push(biexMajor[k + 1] + m) })
    }

    var labelX, labelY, majors
    if (p.kind == 'log') {
        majors = logMajor
        labelX = function (i) { return logXExponents[i] === null ? '' : ['    ' + logXExponents[i], '10  '] }
        labelY = function (i) { return tickLinesY(logYExponents[i]) }
    } else {
        majors = biexMajor
        labelX = function (i) { return tickLinesX(biexExponents[i] === null ? undefined : biexExponents[i]) }
        labelY = function (i) { return tickLinesY(biexExponents[i]) }
    }

    new Chart(cv, {
        type: 'scatter',
        data: { datasets: sets },
        options: {
            responsive: false,
            animation: false,
            events: [],
            layout: { padding: { top: marginT, right: marginR, left: 0, bottom: 0 } },
            scales: {
                x: axisOptions(xr, majors, labelX, true),
                y: axisOptions(yr, majors, labelY, false)
            },
            plugins: {
                legend: { display: false },
                tooltip: { enabled: false },
                panelFrame: { minor: minor, topColor: p.topColor || '#b8b8b8' },
                quadrantPct: {
                    values: p.pct,
                    size: p.kind == 'log' ? 50 : 47,
                    spacing: p.kind == 'log' ? 4 : 0,
                    insetOne: p.kind == 'log' ? 30 : 23,
                    insetTwo: p.kind == 'log' ? 44 : (p.box ? (p.pct[1] == 74 ? 51 : 66) : 39),
                    topBase: p.kind == 'log' ? 67 : 62,
                    bottomBase: p.kind == 'log' ? 36 : 34
                }
            }
        },
        plugins: [blurPlugin, framePlugin, pctPlugin]
    })
}

Chart.defaults.font.family = 'DejaVu Sans'

var dark = '#666'
var tablePanels = [
    { frame: [colsA[0][0], rowsA[0][0], colsA[0][1], rowsA[0][1]], rings: ctrCd14Rings, dots: ctrCd14Dots, pct: ctrCd14Pct, box: ctrCd14Box },
    { frame: [colsA[0][0], rowsA[1][0], colsA[0][1], rowsA[1][1]], rings: unc0Cd14Rings, dots: unc0Cd14Dots, pct: unc0Cd14Pct, box: unc0Cd14Box, topColor: dark },
    { frame: [colsA[0][0], rowsA[2][0], colsA[0][1], rowsA[2][1]], rings: uncRCd14Rings, dots: uncRCd14Dots, pct: uncRCd14Pct, box: uncRCd14Box },
    { frame: [colsA[1][0], rowsA[0][0], colsA[1][1], rowsA[0][1]], rings: ctrNkg2aRings, dots: ctrNkg2aDots, pct: ctrNkg2aPct, cut: ctrNkg2aCut },
    { frame: [1133, 672, 1537, 1053], rings: unc0Nkg2aRings, dots: unc0Nkg2aDots, pct: unc0Nkg2aPct, cut: unc0Nkg2aCut },
    { frame: [colsA[1][0], rowsA[2][0], colsA[1][1], rowsA[2][1]], rings: uncRNkg2aRings, dots: uncRNkg2aDots, pct: uncRNkg2aPct, cut: uncRNkg2aCut },
    { frame: [colsA[2][0], rowsA[0][0], colsA[2][1], rowsA[0][1]], rings: ctrNkp46Rings, dots: ctrNkp46Dots, pct: ctrNkp46Pct, cut: ctrNkp46Cut },
    { frame: [colsA[2][0], rowsA[1][0], colsA[2][1], rowsA[1][1]], rings: unc0Nkp46Rings, dots: unc0Nkp46Dots, pct: unc0Nkp46Pct, cut: unc0Nkp46Cut, topColor: dark },
    { frame: [colsA[2][0], rowsA[2][0], colsA[2][1], rowsA[2][1]], rings: uncRNkp46Rings, dots: uncRNkp46Dots, pct: uncRNkp46Pct, cut: uncRNkp46Cut },
    { frame: [colsA[3][0], rowsA[0][0], colsA[3][1], rowsA[0][1]], rings: ctrNkg2dRings, dots: ctrNkg2dDots, pct: ctrNkg2dPct, cut: ctrNkg2dCut },
    { frame: [colsA[3][0], rowsA[1][0], colsA[3][1], rowsA[1][1]], rings: unc0Nkg2dRings, dots: unc0Nkg2dDots, pct: unc0Nkg2dPct, cut: unc0Nkg2dCut, topColor: dark },
    { frame: [colsA[3][0], rowsA[2][0], colsA[3][1], rowsA[2][1]], rings: uncRNkg2dRings, dots: uncRNkg2dDots, pct: uncRNkg2dPct, cut: uncRNkg2dCut },
    { frame: [colsA[4][0], rowsA[0][0], colsA[4][1], rowsA[0][1]], rings: ctrCd16Rings, dots: ctrCd16Dots, pct: ctrCd16Pct, cut: ctrCd16Cut },
    { frame: [colsA[4][0], rowsA[1][0], colsA[4][1], rowsA[1][1]], rings: unc0Cd16Rings, dots: unc0Cd16Dots, pct: unc0Cd16Pct, cut: unc0Cd16Cut, topColor: dark },
    { frame: [colsA[4][0], rowsA[2][0], colsA[4][1], rowsA[2][1]], rings: uncRCd16Rings, dots: uncRCd16Dots, pct: uncRCd16Pct, cut: uncRCd16Cut },
    { kind: 'log', frame: [922, 2067, 1346, 2480], rings: ctrRorRings, dots: ctrRorDots, pct: ctrRorPct, cut: ctrRorCut },
    { kind: 'log', frame: [1562, 2067, 1986, 2480], rings: unc0RorRings, dots: unc0RorDots, pct: unc0RorPct, cut: unc0RorCut },
    { kind: 'log', frame: [2194, 2067, 2620, 2480], rings: uncRRorRings, dots: uncRRorDots, pct: uncRRorPct, cut: uncRRorCut }
]
tablePanels.forEach(drawPanel)

function addText(txt, cx, cy, size, rotated) {
    var d = document.createElement('div')
    d.className = 'txt'
    d.textContent = txt
    d.style.left = cx + 'px'
    d.style.top = cy + 'px'
    d.style.fontSize = size + 'px'
    if (rotated) d.style.transform = 'translate(-50%, -50%) rotate(-90deg)'
    figure.appendChild(d)
}

function addRule(x, y, w, h) {
    var d = document.createElement('div')
    d.className = 'rule'
    d.style.left = x + 'px'
    d.style.top = y + 'px'
    d.style.width = w + 'px'
    d.style.height = h + 'px'
    figure.appendChild(d)
}

addText(panelLetters[0], 68, 80, 88)
addText(panelLetters[1], 72, 1812, 88)
addText(headings[0], 2214, 50, 79)
addText(headings[1], 1755, 1874, 80)
addRule(1117, 117, 2094, 3)
addRule(904, 1942, 1709, 3)
addRule(360, 159, 3, 1378)
addRule(1028, 155, 3, 1390)
addRule(1704, 163, 3, 1381)

var rowNameX = [97, 104, 104, 120, 120]
var rowNameY = [337, 778, 863, 1287, 1372]
rowNames.forEach(function (n, i) { addText(n, rowNameX[i], rowNameY[i], 70) })

var markerX = [621, 1312, 1982, 2489, 2992]
var markerSize = [51, 53, 51, 53, 51]
markersA.forEach(function (n, i) { addText(n, markerX[i], 1657, markerSize[i]) })
var yMarkerX = [279, 968, 1637]
yMarkersA.forEach(function (n, i) { addText(n, yMarkerX[i], 828, 50, true) })

var colXB = [1134, 1769, 2396]
columnsB.forEach(function (n, i) { addText(n, colXB[i], 2007, 59) })
var eomesX = [1119, 1763, 2406]
eomesX.forEach(function (x) { addText('EOMES', x, 2584, 50) })
var rorX = [795, 1426, 2059]
rorX.forEach(function (x) { addText('RORγt', x, 2265, 50, true) })
</script>
</body>
</html>
